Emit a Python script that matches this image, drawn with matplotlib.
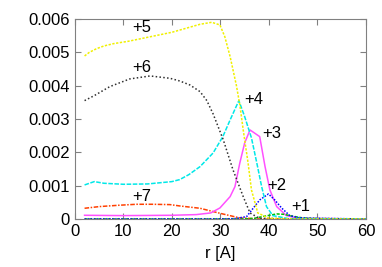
import matplotlib.pyplot as plt
import numpy as np

plt.rcParams['font.family'] = ['Liberation Sans', 'DejaVu Sans']

# charge state +5 (yellow)
r5 = [2, 3, 4.5, 6, 8, 11, 15, 20, 25.8, 28.2, 29.9, 30.9, 32, 33.3, 34, 34.7, 35.7, 36.4, 37.7, 40, 45, 60]
p5 = [0.00489, 0.00500, 0.00511, 0.00519, 0.00526, 0.00533, 0.00545, 0.00560, 0.00584, 0.00590,
      0.00582, 0.00547, 0.00487, 0.00400, 0.00342, 0.00267, 0.00168, 0.00087, 0.00018, 0.00002, 0, 0]
# +6 (black)
r6 = [2, 4, 7.2, 11.3, 15.5, 19.6, 21.6, 23.7, 25.8, 27.2, 28.5, 30.6, 32.6, 34.7, 36.1, 38, 45, 60]
p6 = [0.00355, 0.00370, 0.00397, 0.00420, 0.00429, 0.00422, 0.00414, 0.00402, 0.00382, 0.00355,
      0.00315, 0.00237, 0.00147, 0.00067, 0.00018, 0.00002, 0, 0]
# +4 (cyan)
r4 = [2, 4, 6, 10, 15, 20, 21.6, 23.5, 25.8, 28.5, 30.5, 32, 33.8, 35, 36.4, 37.5, 38.5, 39.5, 40.8, 44, 60]
p4 = [0.00102, 0.00112, 0.00107, 0.00104, 0.00105, 0.00112, 0.00118, 0.00133, 0.00157, 0.00198,
      0.00247, 0.00297, 0.00355, 0.00307, 0.00243, 0.00168, 0.00097, 0.00037, 0.00010, 0.00001, 0]
# +3 (magenta)
r3 = [2, 10, 20, 25, 28, 29.9, 32, 33, 34, 35, 36.1, 38.1, 39.2, 40.2, 41.6, 43.6, 46, 60]
p3 = [0.00011, 0.00010, 0.00011, 0.00013, 0.00018, 0.00033, 0.00067, 0.00097, 0.00168, 0.00228,
      0.00267, 0.00247, 0.00157, 0.00087, 0.00037, 0.00010, 0.00002, 0]
# +2 (blue)
r2 = [2, 30, 33, 35.4, 36.8, 38.1, 39.9, 41.2, 42.6, 44.3, 46, 48, 60]
p2 = [0, 0, 0.00001, 0.00007, 0.00033, 0.00057, 0.00075, 0.00057, 0.00033, 0.00010, 0.00004, 0.00002, 0]
# +1 (green)
r1 = [2, 35, 37, 39, 41.6, 43, 45, 47, 50, 60]
p1 = [0, 0, 0.00002, 0.00008, 0.00015, 0.00014, 0.00008, 0.00003, 0.00001, 0]
# +7 (orange)
r7 = [2, 5, 9, 12.7, 16, 19.6, 21.6, 25.8, 29.9, 34, 38, 60]
p7 = [0.00032, 0.00037, 0.00041, 0.00044, 0.00044, 0.00043, 0.00039, 0.00032, 0.00017, 0.00003, 0, 0]

labels = ['+5', '+6', '+4', '+3', '+2', '+1', '+7']
label_r = [13.8, 13.8, 36.8, 40.6, 41.6, 46.6, 13.8]
label_p = [0.00573, 0.00453, 0.00357, 0.00255, 0.00100, 0.00036, 0.00066]

fig = plt.figure(figsize=(3.82, 2.67), dpi=100)
ax = fig.add_axes([0.196, 0.180, 0.762, 0.749])

ax.plot(r7, p7, color='#ff4000', lw=1.1, ls=(0, (3, 1, 1, 1)))
ax.plot(r3, p3, color='#ff50ff', lw=1.1, ls='-')
ax.plot(r1, p1, color='#00c000', lw=1.1, ls=(0, (2, 1)))
ax.plot(r2, p2, color='#0000ff', lw=1.1, ls=(0, (1, 1)))
ax.plot(r4, p4, color='#00e8e8', lw=1.1, ls=(0, (3, 1)))
ax.plot(r6, p6, color='#303030', lw=1.1, ls=(0, (1, 1.5)))
ax.plot(r5, p5, color='#f0f000', lw=1.1, ls=(0, (1.5, 1)))

for t, x, y in zip(labels, label_r, label_p):
    ax.text(x, y, t, ha='center', va='center', fontsize=12)

ax.set_xlim(0, 60)
ax.set_ylim(0, 0.006)
ax.set_xticks([0, 10, 20, 30, 40, 50, 60])
ax.set_yticks([0, 0.001, 0.002, 0.003, 0.004, 0.005, 0.006])
ax.set_yticklabels(['0', '0.001', '0.002', '0.003', '0.004', '0.005', '0.006'])
ax.tick_params(direction='in', top=True, right=True, labelsize=12, color='#808080', length=4)
for s in ax.spines.values():
    s.set_color('#808080')
ax.set_xlabel('r [A]', fontsize=12, labelpad=5)

fig.savefig('out.png', dpi=100)
